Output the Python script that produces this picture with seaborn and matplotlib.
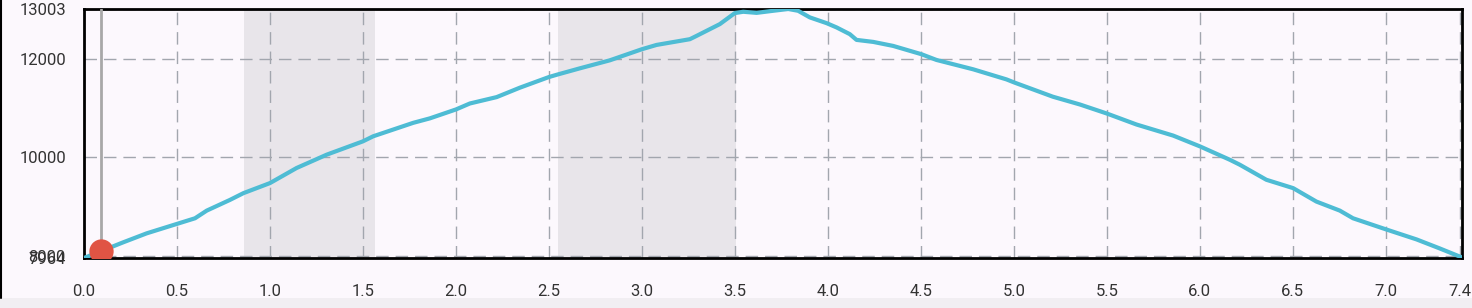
import numpy as np
import pandas as pd
import matplotlib
matplotlib.use("Agg")
import matplotlib.pyplot as plt
import seaborn as sns
from matplotlib.lines import Line2D
from matplotlib.patches import Rectangle

# ---- data ----
distance_km = [0.0, 0.09, 0.21, 0.337, 0.498, 0.597, 0.66, 0.785, 0.857, 1.0, 1.143, 1.305,
               1.5, 1.555, 1.77, 1.86, 2.0, 2.075, 2.219, 2.344, 2.5, 2.55, 2.667, 2.828,
               3.0, 3.079, 3.258, 3.294, 3.419, 3.5, 3.545, 3.617, 3.706, 3.787, 3.84,
               3.903, 3.993, 4.047, 4.118, 4.154, 4.244, 4.351, 4.504, 4.584, 4.781, 4.96,
               5.005, 5.21, 5.355, 5.5, 5.66, 5.857, 6.0, 6.161, 6.215, 6.358, 6.502,
               6.627, 6.753, 6.824, 7.0, 7.165, 7.29, 7.41]
elevation = [7964, 8100, 8280, 8463, 8652, 8768, 8923, 9140, 9276, 9480, 9785, 10055,
             10325, 10427, 10699, 10790, 10970, 11091, 11220, 11411, 11626, 11681, 11803, 11965,
             12189, 12276, 12392, 12459, 12697, 12921, 12947, 12925, 12967, 13003, 12967,
             12833, 12717, 12630, 12494, 12378, 12337, 12256, 12087, 11972, 11783, 11579,
             11512, 11228, 11071, 10888, 10665, 10441, 10224, 9953, 9852, 9547, 9378,
             9106, 8923, 8768, 8545, 8341, 8158, 7975]
shade_start = [0.86, 2.55]
shade_end = [1.565, 3.505]
marker_km = [0.09]
marker_elev = [8100]
y_ticks = [7964, 8000, 10000, 12000, 13003]
x_ticks = [0.0, 0.5, 1.0, 1.5, 2.0, 2.5, 3.0, 3.5, 4.0, 4.5, 5.0, 5.5, 6.0, 6.5, 7.0, 7.4]
x_max = 7.41

df = pd.DataFrame({"km": distance_km, "elev": elevation})

sns.set_theme(style="white")
plt.rcParams["font.family"] = ["Roboto", "DejaVu Sans"]

bg = "#FCF8FD"
fig = plt.figure(figsize=(14.72, 3.08), dpi=100, facecolor=bg)
ax = fig.add_axes([84 / 1472, 50 / 308, (1462 - 84) / 1472, (258 - 9) / 308])
ax.set_facecolor(bg)

for s, e in zip(shade_start, shade_end):
    ax.axvspan(s, e, color="#E8E5EA", lw=0, zorder=0)

sns.lineplot(data=df, x="km", y="elev", ax=ax, color="#4EBCD4", lw=3.0, zorder=3)

ax.axvline(marker_km[0], color="#A8A8A8", lw=2, zorder=4)
ax.plot(marker_km, marker_elev, "o", color="#E05444", ms=17.5, zorder=5, mec="none")

ax.set_xlim(0, x_max)
ax.set_ylim(min(elevation), max(elevation))
ax.set_xticks(x_ticks)
ax.set_xticklabels([f"{v:.1f}" for v in x_ticks])
ax.set_yticks(y_ticks)
ax.set_yticklabels([str(v) for v in y_ticks])
ax.tick_params(axis="x", length=0, pad=19, labelsize=12, colors="#333333")
ax.tick_params(axis="y", length=0, pad=13, labelsize=12, colors="#333333")
ax.set_xlabel("")
ax.set_ylabel("")

ax.grid(True, color="#A2A6AE", lw=1, linestyle=(0, (9, 5)), zorder=1)
ax.set_axisbelow(True)
for sp in ax.spines.values():
    sp.set_color("black")
    sp.set_linewidth(2)
    sp.set_visible(True)

# figure decorations
fig.add_artist(Line2D([1 / 1472, 1 / 1472], [10 / 308, 1], color="black", lw=1.5,
                      transform=fig.transFigure))
fig.add_artist(Rectangle((0, 0), 1, 10 / 308, color="#F1EEF2", transform=fig.transFigure,
                         zorder=-1, lw=0))

fig.savefig("out.png", dpi=100, facecolor=bg)
